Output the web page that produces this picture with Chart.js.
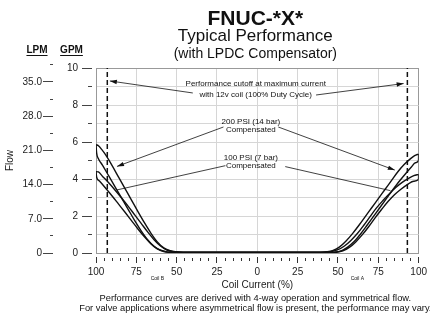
<!DOCTYPE html>
<html>
<head>
<meta charset="utf-8">
<script src="https://cdn.jsdelivr.net/npm/chart.js@4.4.1/dist/chart.umd.min.js"></script>
<style>
  html, body { margin: 0; padding: 0; background: #fff; }
  canvas { display: block; }
</style>
</head>
<body>
<canvas id="flowChart" width="430" height="316"></canvas>
<script>
// coil current in %, negative side = Coil B, positive side = Coil A
// flow in GPM

// 200 PSI, rising branch (outer on Coil B, upper on Coil A)
const psi200RiseCurrent = [-100, -98.5, -96.5, -94, -90, -86, -82, -78, -74, -70, -66, -62, -58, -54, -50, -46, -30, 0, 30, 39, 43, 47, 51, 55, 59, 63, 67, 71, 75, 79, 83, 87, 91, 95, 97.5, 100];
const psi200RiseFlow = [5.85, 5.8, 5.6, 5.3, 4.72, 4.1, 3.48, 2.86, 2.24, 1.64, 1.08, 0.6, 0.28, 0.12, 0.07, 0.05, 0.05, 0.05, 0.05, 0.05, 0.07, 0.14, 0.33, 0.65, 1.05, 1.5, 1.98, 2.46, 2.94, 3.42, 3.9, 4.38, 4.78, 5.1, 5.26, 5.35];

// 200 PSI, falling branch
const psi200FallCurrent = [-100, -99.6, -98.5, -96, -92, -88, -84, -80, -76, -72, -68, -64, -60, -56, -52, -48, -30, 0, 30, 44, 48, 52, 56, 60, 64, 68, 72, 76, 80, 84, 88, 92, 95.5, 98, 99.9, 100];
const psi200FallFlow = [5.85, 5.4, 5.1, 4.75, 4.15, 3.55, 2.95, 2.35, 1.75, 1.2, 0.72, 0.36, 0.15, 0.06, 0.03, 0.03, 0.03, 0.03, 0.03, 0.03, 0.05, 0.12, 0.32, 0.62, 1.03, 1.5, 1.98, 2.46, 2.94, 3.42, 3.88, 4.3, 4.65, 4.88, 5.0, 5.35];

// 100 PSI, rising branch
const psi100RiseCurrent = [-100, -98.5, -96, -92, -88, -84, -80, -76, -72, -68, -64, -60, -56, -52, -48, -30, 0, 30, 42, 46, 50, 54, 58, 62, 66, 70, 74, 78, 82, 86, 90, 94, 97, 100];
const psi100RiseFlow = [4.4, 4.38, 4.15, 3.78, 3.38, 2.96, 2.52, 2.06, 1.6, 1.14, 0.72, 0.38, 0.16, 0.07, 0.04, 0.04, 0.04, 0.04, 0.04, 0.08, 0.18, 0.38, 0.68, 1.05, 1.5, 1.98, 2.45, 2.85, 3.22, 3.55, 3.83, 4.05, 4.18, 4.25];

// 100 PSI, falling branch
const psi100FallCurrent = [-100, -99.6, -98, -94, -90, -86, -82, -78, -74, -70, -66, -62, -58, -54, -50, -30, 0, 30, 45, 49, 53, 57, 61, 65, 69, 73, 77, 81, 85, 89, 93, 97, 99.9, 100];
const psi100FallFlow = [4.4, 4.1, 3.9, 3.5, 3.08, 2.64, 2.2, 1.75, 1.3, 0.88, 0.5, 0.22, 0.08, 0.03, 0.02, 0.02, 0.02, 0.02, 0.02, 0.04, 0.12, 0.3, 0.6, 0.98, 1.42, 1.9, 2.35, 2.78, 3.15, 3.45, 3.7, 3.88, 3.97, 4.25];

// max current cutoff (12v coil, 100% duty cycle)
const cutoffCurrent = [-93, 93];
const cutoffFlow = [0, 10];

// axes
const currentTicks = [];
for (let v = -100; v <= 100; v += 5) currentTicks.push(v);
const gpmTicks = [0, 1, 2, 3, 4, 5, 6, 7, 8, 9, 10];
const lpmTicks = [0, 3.5, 7, 10.5, 14, 17.5, 21, 24.5, 28, 31.5, 35, 38.5];
const LPM_PER_GPM = 3.785;

const FONT = '"Liberation Sans", Arial, Helvetica, sans-serif';
Chart.defaults.font.family = FONT;
Chart.defaults.color = '#222';

function toPoints(xs, ys) {
  return xs.map((x, i) => ({ x: x, y: ys[i] }));
}

function curve(label, xs, ys) {
  return {
    label: label,
    data: toPoints(xs, ys),
    borderColor: '#111',
    borderWidth: 1.4,
    pointRadius: 0,
    fill: false,
    cubicInterpolationMode: 'monotone'
  };
}

const cutoffLine = (x) => ({
  label: 'cutoff',
  data: toPoints([x, x], cutoffFlow),
  borderColor: '#111',
  borderWidth: 1.5,
  borderDash: [5, 3],
  pointRadius: 0,
  fill: false
});

// annotation layout (data coordinates)
const notes = [
  { lines: ['Performance cutoff at maximum current', 'with 12v coil (100% Duty Cycle)'], x: -1, y: [9.13, 8.57] },
  { lines: ['200 PSI (14 bar)', 'Compensated'], x: -4, y: [7.09, 6.68] },
  { lines: ['100 PSI (7 bar)', 'Compensated'], x: -4, y: [5.17, 4.69] }
];
const pointers = [
  { from: [-40, 8.65], to: [-91.4, 9.3], head: true },
  { from: [36.4, 8.54], to: [90.7, 9.16], head: true },
  { from: [-21, 6.81], to: [-87, 4.68], head: true },
  { from: [13, 6.81], to: [85.2, 4.48], head: true },
  { from: [-19.8, 4.72], to: [-87, 3.41], head: false },
  { from: [17.3, 4.67], to: [82.5, 3.37], head: false }
];

const decorations = {
  id: 'decorations',
  afterDraw(chart) {
    const { ctx, chartArea, scales } = chart;
    const xs = scales.x, ys = scales.y;
    const cx = (chartArea.left + chartArea.right) / 2 - 2;
    ctx.save();
    ctx.fillStyle = '#111';
    ctx.strokeStyle = '#111';
    ctx.textAlign = 'center';
    ctx.textBaseline = 'alphabetic';

    ctx.font = 'bold 21px ' + FONT;
    ctx.fillText('FNUC-*X*', cx, 25);
    ctx.font = '17px ' + FONT;
    ctx.fillText('Typical Performance', cx, 41);
    ctx.font = '14px ' + FONT;
    ctx.fillText('(with LPDC Compensator)', cx, 58);

    // unit headers
    ctx.font = 'bold 10px ' + FONT;
    [['LPM', 37], ['GPM', 71.5]].forEach(([t, x]) => {
      ctx.fillText(t, x, 53);
      const w = ctx.measureText(t).width;
      ctx.lineWidth = 1;
      ctx.beginPath();
      ctx.moveTo(x - w / 2, 55.5);
      ctx.lineTo(x + w / 2, 55.5);
      ctx.stroke();
    });

    // coil labels
    ctx.font = '5px ' + FONT;
    ctx.fillText('Coil B', xs.getPixelForValue(-62), 280);
    ctx.fillText('Coil A', xs.getPixelForValue(62), 280);

    // footnotes
    ctx.font = '9.3px ' + FONT;
    ctx.fillText('Performance curves are derived with 4-way operation and symmetrical flow.', cx, 300.5);
    ctx.fillText('For valve applications where asymmetrical flow is present, the performance may vary.', cx, 310.5);

    // notes
    ctx.font = '8px ' + FONT;
    ctx.textBaseline = 'middle';
    notes.forEach(n => {
      n.lines.forEach((t, i) => {
        ctx.fillText(t, xs.getPixelForValue(n.x), ys.getPixelForValue(n.y[i]));
      });
    });

    ctx.lineWidth = 0.8;
    pointers.forEach(p => {
      const x1 = xs.getPixelForValue(p.from[0]), y1 = ys.getPixelForValue(p.from[1]);
      const x2 = xs.getPixelForValue(p.to[0]), y2 = ys.getPixelForValue(p.to[1]);
      ctx.beginPath();
      ctx.moveTo(x1, y1);
      ctx.lineTo(x2, y2);
      ctx.stroke();
      if (p.head) {
        const a = Math.atan2(y2 - y1, x2 - x1);
        const L = 7, W = 2.2;
        ctx.beginPath();
        ctx.moveTo(x2, y2);
        ctx.lineTo(x2 - L * Math.cos(a) + W * Math.sin(a), y2 - L * Math.sin(a) - W * Math.cos(a));
        ctx.lineTo(x2 - L * Math.cos(a) - W * Math.sin(a), y2 - L * Math.sin(a) + W * Math.cos(a));
        ctx.closePath();
        ctx.fill();
      }
    });
    ctx.restore();
  }
};

new Chart(document.getElementById('flowChart'), {
  type: 'line',
  data: {
    datasets: [
      curve('200 PSI rise', psi200RiseCurrent, psi200RiseFlow),
      curve('200 PSI fall', psi200FallCurrent, psi200FallFlow),
      curve('100 PSI rise', psi100RiseCurrent, psi100RiseFlow),
      curve('100 PSI fall', psi100FallCurrent, psi100FallFlow),
      cutoffLine(cutoffCurrent[0]),
      cutoffLine(cutoffCurrent[1])
    ]
  },
  options: {
    responsive: false,
    animation: false,
    devicePixelRatio: 1,
    layout: { padding: { top: 68, right: 10, bottom: 25, left: 0 } },
    plugins: {
      legend: { display: false },
      tooltip: { enabled: false },
      title: { display: false }
    },
    scales: {
      x: {
        type: 'linear',
        min: -100,
        max: 100,
        afterBuildTicks: s => { s.ticks = currentTicks.map(v => ({ value: v })); },
        afterFit: s => { s.height = 38; },
        ticks: {
          autoSkip: false,
          maxRotation: 0,
          minRotation: 0,
          padding: 3,
          font: { size: 10 },
          color: '#222',
          callback: v => (v % 25 === 0 ? String(Math.abs(v)) : '')
        },
        grid: {
          color: c => {
            const v = c.tick.value;
            if (Math.abs(v) === 100) return '#999';
            return v % 25 === 0 ? '#d6d6d6' : 'rgba(0,0,0,0)';
          },
          lineWidth: 1,
          tickLength: 10,
          tickColor: '#333',
          tickBorderDash: c => (c.tick.value % 25 === 0 ? [0, 3, 7, 20] : [0, 4, 3, 20])
        },
        border: { color: '#999' },
        title: {
          display: true,
          text: 'Coil Current (%)',
          font: { size: 10 },
          color: '#222',
          padding: { top: 0, bottom: 0 }
        }
      },
      y: {
        type: 'linear',
        position: 'left',
        weight: 0,
        min: 0,
        max: 10,
        afterBuildTicks: s => { s.ticks = gpmTicks.map(v => ({ value: v })); },
        afterFit: s => { s.width = 41; },
        ticks: {
          padding: 4,
          font: { size: 10 },
          color: '#222',
          callback: v => (v % 2 === 0 ? String(v) : '')
        },
        grid: {
          color: c => (c.tick.value === 10 ? '#999' : '#d6d6d6'),
          lineWidth: 1,
          tickLength: 14,
          tickColor: '#444',
          tickBorderDash: c => (c.tick.value % 2 === 0 ? [10, 20] : [0, 6, 4, 20])
        },
        border: { color: '#999' }
      },
      lpm: {
        type: 'linear',
        position: 'left',
        weight: 1,
        min: 0,
        max: 10 * LPM_PER_GPM,
        afterBuildTicks: s => { s.ticks = lpmTicks.map(v => ({ value: v })); },
        afterFit: s => { s.width = 55; },
        ticks: {
          padding: 1,
          font: { size: 10 },
          color: '#222',
          callback: v => (v % 7 === 0 ? (v === 0 ? '0' : v.toFixed(1)) : '')
        },
        grid: {
          drawOnChartArea: false,
          tickLength: 12,
          tickColor: '#444',
          tickBorderDash: c => (c.tick.value % 7 === 0 ? [10, 20] : [0, 7, 3, 20])
        },
        border: { display: false },
        title: {
          display: true,
          text: 'Flow',
          font: { size: 10 },
          color: '#222',
          padding: { top: 4, bottom: 0 }
        }
      }
    }
  },
  plugins: [decorations]
});
</script>
</body>
</html>
